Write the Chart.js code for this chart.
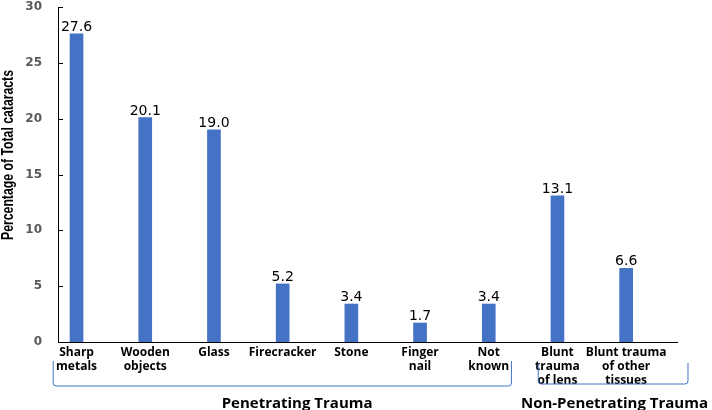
<!DOCTYPE html>
<html>
<head>
  <script src="https://cdnjs.cloudflare.com/ajax/libs/Chart.js/4.4.1/chart.umd.min.js"></script>
  <style>
    body { margin: 0; background: white; }
    #wrap { width: 712px; height: 410px; }
  </style>
</head>
<body>
  <div id="wrap"><canvas id="chart"></canvas></div>
  <script>
    const categories = [
      ['Sharp', 'metals'], ['Wooden', 'objects'], ['Glass'], ['Firecracker'], ['Stone'],
      ['Finger', 'nail'], ['Not', 'known'], ['Blunt', 'trauma', 'of lens'], ['Blunt trauma', 'of other', 'tissues']
    ];
    const values = [27.6, 20.1, 19.0, 5.2, 3.4, 1.7, 3.4, 13.1, 6.6];
    const yTicks = [0, 5, 10, 15, 20, 25, 30];
    const groupNames = ['Penetrating Trauma', 'Non-Penetrating Trauma'];
    const groupSpans = [[-0.34, 6.33], [6.72, 8.9]];
    const groupLabelAt = [3.21, 7.83];

    const blue = '#4472C4';

    // value labels, brackets, group names, y title, inner tick marks
    const extras = {
      id: 'extras',
      afterDraw(chart) {
        const ctx = chart.ctx;
        const x = chart.scales.x, y = chart.scales.y;
        const area = chart.chartArea;
        ctx.save();

        // little tick marks pointing into the plot
        ctx.strokeStyle = '#000';
        ctx.lineWidth = 1;
        yTicks.slice(1).forEach(v => {
          const py = Math.round(y.getPixelForValue(v)) + 0.5;
          ctx.beginPath();
          ctx.moveTo(area.left, py);
          ctx.lineTo(area.left + 5, py);
          ctx.stroke();
        });

        // values above bars
        ctx.fillStyle = '#000';
        ctx.font = '14px "DejaVu Sans"';
        ctx.textAlign = 'center';
        ctx.textBaseline = 'alphabetic';
        chart.getDatasetMeta(0).data.forEach((bar, i) => {
          ctx.fillText(values[i].toFixed(1), bar.x, bar.y - 3);
        });

        // brackets
        ctx.strokeStyle = blue;
        const tops = [361, 363], bottoms = [386, 384];
        groupSpans.forEach(([a, b], g) => {
          const x1 = x.getPixelForValue(a), x2 = x.getPixelForValue(b);
          const t = tops[g], bt = bottoms[g], r = 3;
          ctx.beginPath();
          ctx.moveTo(x1, t);
          ctx.lineTo(x1, bt - r);
          ctx.quadraticCurveTo(x1, bt, x1 + r, bt);
          ctx.lineTo(x2 - r, bt);
          ctx.quadraticCurveTo(x2, bt, x2, bt - r);
          ctx.lineTo(x2, t);
          ctx.stroke();
        });

        // group names
        ctx.fillStyle = '#000';
        ctx.font = 'bold 15px "Open Sans"';
        groupNames.forEach((name, g) => {
          ctx.fillText(name, x.getPixelForValue(groupLabelAt[g]), 408);
        });

        // y axis title, squeezed like a condensed face
        const title = 'Percentage of Total cataracts';
        ctx.translate(13, 155);
        ctx.rotate(-Math.PI / 2);
        ctx.font = 'bold 17px "Liberation Sans"';
        ctx.scale(170 / ctx.measureText(title).width, 1);
        ctx.fillText(title, 0, 0);
        ctx.restore();
      }
    };

    new Chart(document.getElementById('chart'), {
      type: 'bar',
      data: {
        datasets: [{
          data: values.map((v, i) => ({ x: i, y: v })),
          backgroundColor: blue,
          barThickness: 13
        }]
      },
      options: {
        responsive: true,
        maintainAspectRatio: false,
        animation: false,
        layout: { padding: { top: 7, right: 35, left: 0, bottom: 0 } },
        plugins: { legend: { display: false }, tooltip: { enabled: false } },
        scales: {
          x: {
            type: 'linear',
            offset: false,
            min: -0.27,
            max: 8.74,
            afterBuildTicks: s => { s.ticks = categories.map((_, i) => ({ value: i })); },
            afterFit: s => { s.height = 68; s.paddingLeft = 0; s.paddingRight = 0; },
            grid: { display: false, drawTicks: false, offset: false },
            border: { display: true, color: '#000', width: 1 },
            ticks: {
              autoSkip: false,
              maxRotation: 0,
              padding: 3,
              color: '#000',
              font: { family: 'Open Sans', weight: 'bold', size: 12, lineHeight: 1.2 },
              callback: v => categories[v]
            }
          },
          y: {
            min: 0,
            max: 30,
            afterBuildTicks: s => { s.ticks = yTicks.map(v => ({ value: v })); },
            afterFit: s => { s.width = 58; s.paddingTop = 0; s.paddingBottom = 0; },
            grid: { display: false, drawTicks: false },
            border: { display: true, color: '#000', width: 1 },
            ticks: {
              padding: 16,
              color: '#595959',
              font: { family: 'DejaVu Sans', weight: 'bold', size: 12 }
            }
          }
        }
      },
      plugins: [extras]
    });
  </script>
</body>
</html>
